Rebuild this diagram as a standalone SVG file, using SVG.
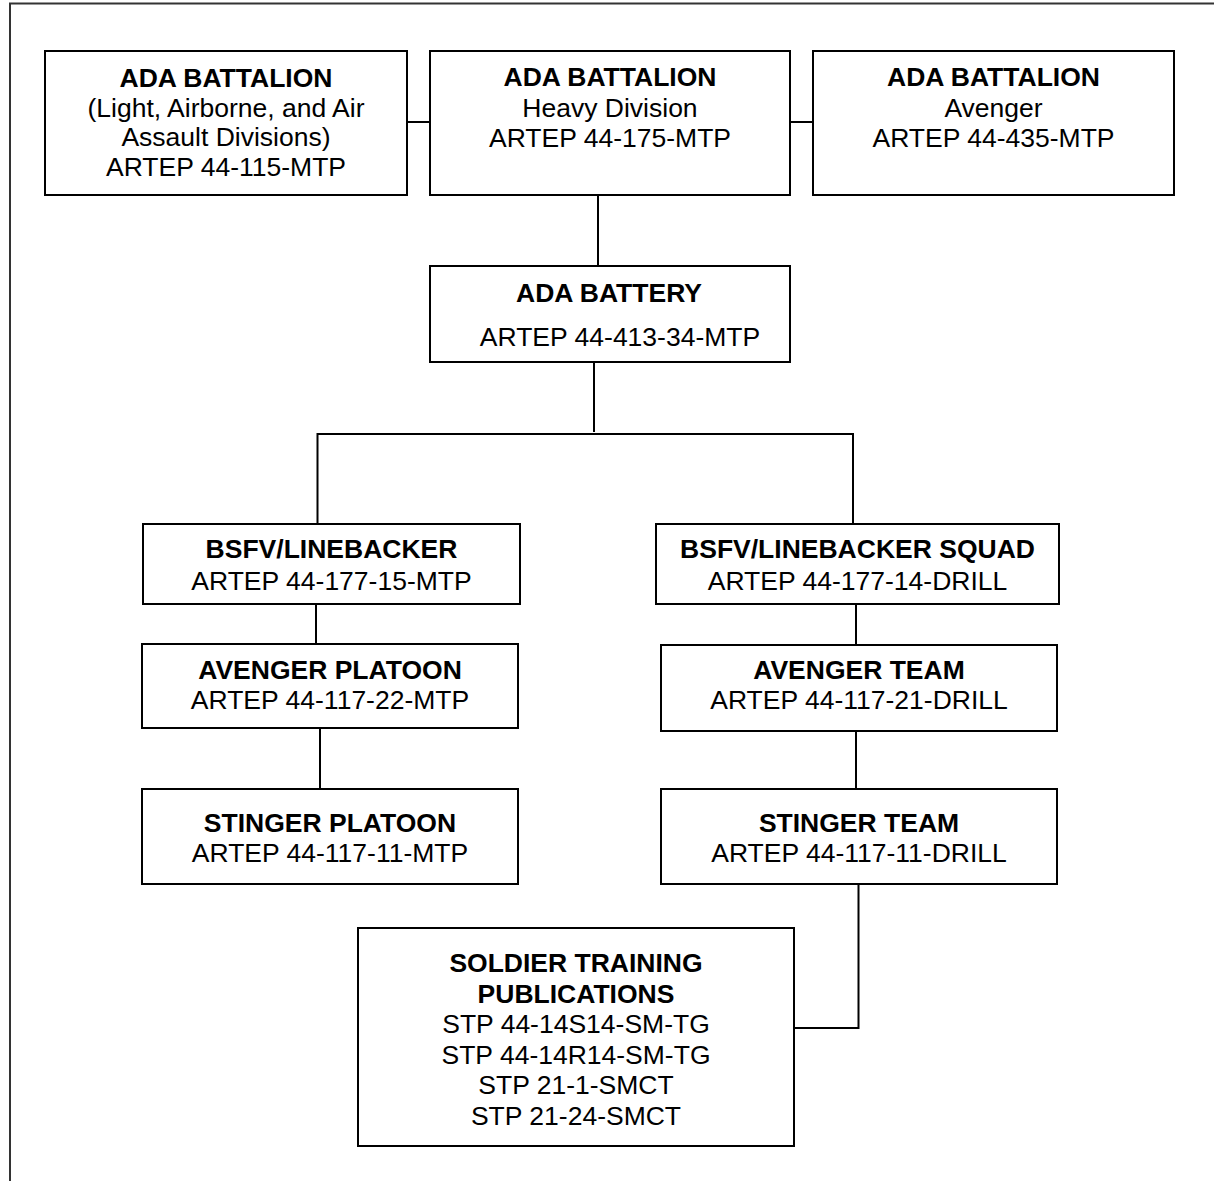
<svg xmlns="http://www.w3.org/2000/svg" width="1214" height="1181" viewBox="0 0 1214 1181">
<style>
.box{fill:#fff;stroke:#000;stroke-width:2}
.con{fill:none;stroke:#000;stroke-width:2}
text{font-family:"Liberation Sans",Arial,sans-serif;font-size:26.5px;fill:#000;text-anchor:middle}
.b{font-weight:bold}
</style>
<rect width="1214" height="1181" fill="#fff"/>
<g id="frame">
<path d="M10,1181 V3.5 H1214" fill="none" stroke="#333" stroke-width="2"/>
</g>
<g id="connectors">
<line class="con" x1="407" y1="122" x2="430" y2="122"/>
<line class="con" x1="790" y1="122" x2="813" y2="122"/>
<line class="con" x1="598" y1="195" x2="598" y2="266"/>
<line class="con" x1="594" y1="362" x2="594" y2="432" stroke-width="1.6"/>
<path class="con" d="M317.5,524 V434 H853 V524" stroke-width="1.8"/>
<line class="con" x1="666" y1="434" x2="691" y2="434" stroke-width="3"/>
<line class="con" x1="316" y1="604" x2="316" y2="644"/>
<line class="con" x1="320" y1="728" x2="320" y2="789"/>
<line class="con" x1="856" y1="604" x2="856" y2="645"/>
<line class="con" x1="856" y1="731" x2="856" y2="789"/>
<path class="con" d="M858.5,884 V1028 H794"/>
</g>
<g id="bn-light">
<rect class="box" x="45" y="51" width="362" height="144"/>
<text class="b" x="226" y="87">ADA BATTALION</text>
<text x="226" y="116.5">(Light, Airborne, and Air</text>
<text x="226" y="146">Assault Divisions)</text>
<text x="226" y="176">ARTEP 44-115-MTP</text>
</g>
<g id="bn-heavy">
<rect class="box" x="430" y="51" width="360" height="144"/>
<text class="b" x="610" y="86">ADA BATTALION</text>
<text x="610" y="116.5">Heavy Division</text>
<text x="610" y="147">ARTEP 44-175-MTP</text>
</g>
<g id="bn-avenger">
<rect class="box" x="813" y="51" width="361" height="144"/>
<text class="b" x="993.5" y="86">ADA BATTALION</text>
<text x="993.5" y="116.5">Avenger</text>
<text x="993.5" y="147">ARTEP 44-435-MTP</text>
</g>
<g id="battery">
<rect class="box" x="430" y="266" width="360" height="96"/>
<text class="b" x="609" y="302">ADA BATTERY</text>
<text x="620" y="346">ARTEP 44-413-34-MTP</text>
</g>
<g id="bsfv">
<rect class="box" x="143" y="524" width="377" height="80" stroke-width="2.6"/>
<text class="b" x="331.5" y="558">BSFV/LINEBACKER</text>
<text x="331.5" y="590">ARTEP 44-177-15-MTP</text>
</g>
<g id="bsfv-squad">
<rect class="box" x="656" y="524" width="403" height="80"/>
<text class="b" x="857.5" y="558">BSFV/LINEBACKER SQUAD</text>
<text x="857.5" y="590">ARTEP 44-177-14-DRILL</text>
</g>
<g id="avenger-platoon">
<rect class="box" x="142" y="644" width="376" height="84"/>
<text class="b" x="330" y="679">AVENGER PLATOON</text>
<text x="330" y="709">ARTEP 44-117-22-MTP</text>
</g>
<g id="avenger-team">
<rect class="box" x="661" y="645" width="396" height="86"/>
<text class="b" x="859" y="679">AVENGER TEAM</text>
<text x="859" y="709">ARTEP 44-117-21-DRILL</text>
</g>
<g id="stinger-platoon">
<rect class="box" x="142" y="789" width="376" height="95"/>
<text class="b" x="330" y="832">STINGER PLATOON</text>
<text x="330" y="862">ARTEP 44-117-11-MTP</text>
</g>
<g id="stinger-team">
<rect class="box" x="661" y="789" width="396" height="95"/>
<text class="b" x="859" y="832">STINGER TEAM</text>
<text x="859" y="862">ARTEP 44-117-11-DRILL</text>
</g>
<g id="stp">
<rect class="box" x="358" y="928" width="436" height="218"/>
<text class="b" x="576" y="972">SOLDIER TRAINING</text>
<text class="b" x="576" y="1002.5">PUBLICATIONS</text>
<text x="576" y="1033">STP 44-14S14-SM-TG</text>
<text x="576" y="1063.5">STP 44-14R14-SM-TG</text>
<text x="576" y="1094">STP 21-1-SMCT</text>
<text x="576" y="1124.5">STP 21-24-SMCT</text>
</g>
</svg>
